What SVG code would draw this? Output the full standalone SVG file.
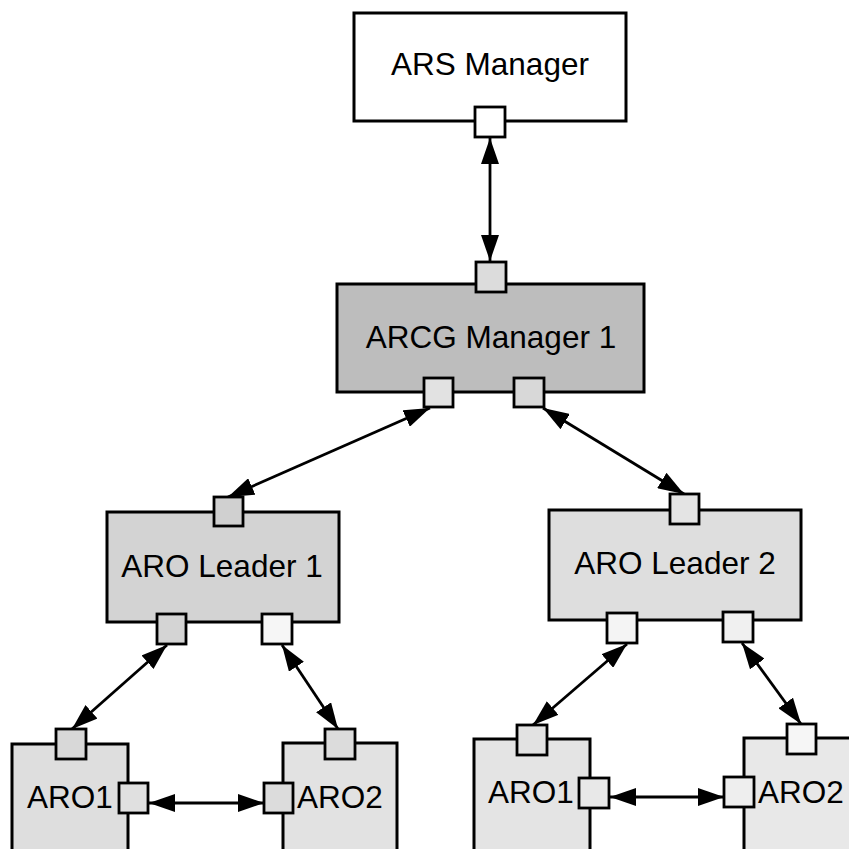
<svg xmlns="http://www.w3.org/2000/svg" width="849" height="849" viewBox="0 0 849 849">
  <style>
    .box { stroke: #000; stroke-width: 3; }
    .port { stroke: #000; stroke-width: 2.8; }
    .label { font-family: "Liberation Sans", Arial, sans-serif; font-size: 31.5px; fill: #000; }
    .mid { text-anchor: middle; }
    .link { stroke: #000; stroke-width: 2.8; fill: none; marker-start: url(#tip); marker-end: url(#tip); }
  </style>
  <defs>
    <marker id="tip" viewBox="0 0 26 18" refX="26" refY="9" markerWidth="26" markerHeight="18" markerUnits="userSpaceOnUse" orient="auto-start-reverse">
      <path d="M0,0 L26,9 L0,18 z" fill="#000"/>
    </marker>
  </defs>
  <rect width="849" height="849" fill="#fff"/>

  <!-- connectors -->
  <g id="connectors">
    <line class="link" x1="490" y1="138" x2="490" y2="261"/>
    <line class="link" x1="430" y1="408" x2="228" y2="497"/>
    <line class="link" x1="543" y1="408" x2="684" y2="494"/>
    <line class="link" x1="167" y1="645" x2="72" y2="729"/>
    <line class="link" x1="282" y1="645" x2="338" y2="729"/>
    <line class="link" x1="627" y1="644" x2="533" y2="725"/>
    <line class="link" x1="742" y1="643" x2="801" y2="724"/>
    <line class="link" x1="149" y1="803" x2="264" y2="803"/>
    <line class="link" x1="610" y1="797" x2="724" y2="797"/>
  </g>

  <g id="ars-manager">
    <rect class="box" x="354" y="13" width="272" height="108" fill="#fff"/>
    <text class="label mid" x="490" y="75">ARS Manager</text>
    <rect class="port" x="475" y="107" width="30" height="30" fill="#fff"/>
  </g>

  <g id="arcg-manager-1">
    <rect class="box" x="337" y="284" width="307" height="108" fill="#bdbdbd"/>
    <text class="label mid" x="491" y="348">ARCG Manager 1</text>
    <rect class="port" x="476" y="262" width="30" height="30" fill="#dcdcdc"/>
    <rect class="port" x="424" y="378" width="29" height="29" fill="#e2e2e2"/>
    <rect class="port" x="514" y="378" width="30" height="29" fill="#d8d8d8"/>
  </g>

  <g id="aro-leader-1">
    <rect class="box" x="107" y="512" width="232" height="110" fill="#d3d3d3"/>
    <text class="label mid" x="222" y="577">ARO Leader 1</text>
    <rect class="port" x="214" y="497" width="29" height="29" fill="#d0d0d0"/>
    <rect class="port" x="157" y="614" width="29" height="30" fill="#d4d4d4"/>
    <rect class="port" x="262" y="614" width="30" height="30" fill="#f6f6f6"/>
  </g>

  <g id="aro-leader-2">
    <rect class="box" x="549" y="510" width="252" height="110" fill="#dedede"/>
    <text class="label mid" x="675" y="574">ARO Leader 2</text>
    <rect class="port" x="670" y="494" width="29" height="30" fill="#e4e4e4"/>
    <rect class="port" x="607" y="613" width="30" height="30" fill="#f4f4f4"/>
    <rect class="port" x="723" y="612" width="30" height="30" fill="#f0f0f0"/>
  </g>

  <g id="aro1-left">
    <rect class="box" x="12" y="744" width="116" height="120" fill="#dedede"/>
    <text class="label" x="27" y="808">ARO1</text>
    <rect class="port" x="56" y="729" width="30" height="30" fill="#d8d8d8"/>
    <rect class="port" x="119" y="783" width="29" height="30" fill="#e0e0e0"/>
  </g>

  <g id="aro2-left">
    <rect class="box" x="283" y="743" width="114" height="121" fill="#e2e2e2"/>
    <text class="label" x="297" y="808">ARO2</text>
    <rect class="port" x="325" y="729" width="30" height="30" fill="#dcdcdc"/>
    <rect class="port" x="264" y="783" width="29" height="30" fill="#dcdcdc"/>
  </g>

  <g id="aro1-right">
    <rect class="box" x="474" y="739" width="116" height="125" fill="#e4e4e4"/>
    <text class="label" x="488" y="803">ARO1</text>
    <rect class="port" x="517" y="725" width="30" height="30" fill="#e2e2e2"/>
    <rect class="port" x="579" y="778" width="30" height="30" fill="#e8e8e8"/>
  </g>

  <g id="aro2-right">
    <rect class="box" x="744" y="738" width="126" height="126" fill="#e8e8e8"/>
    <text class="label" x="758" y="803">ARO2</text>
    <rect class="port" x="787" y="724" width="29" height="30" fill="#f6f6f6"/>
    <rect class="port" x="724" y="777" width="30" height="30" fill="#eeeeee"/>
  </g>
</svg>
